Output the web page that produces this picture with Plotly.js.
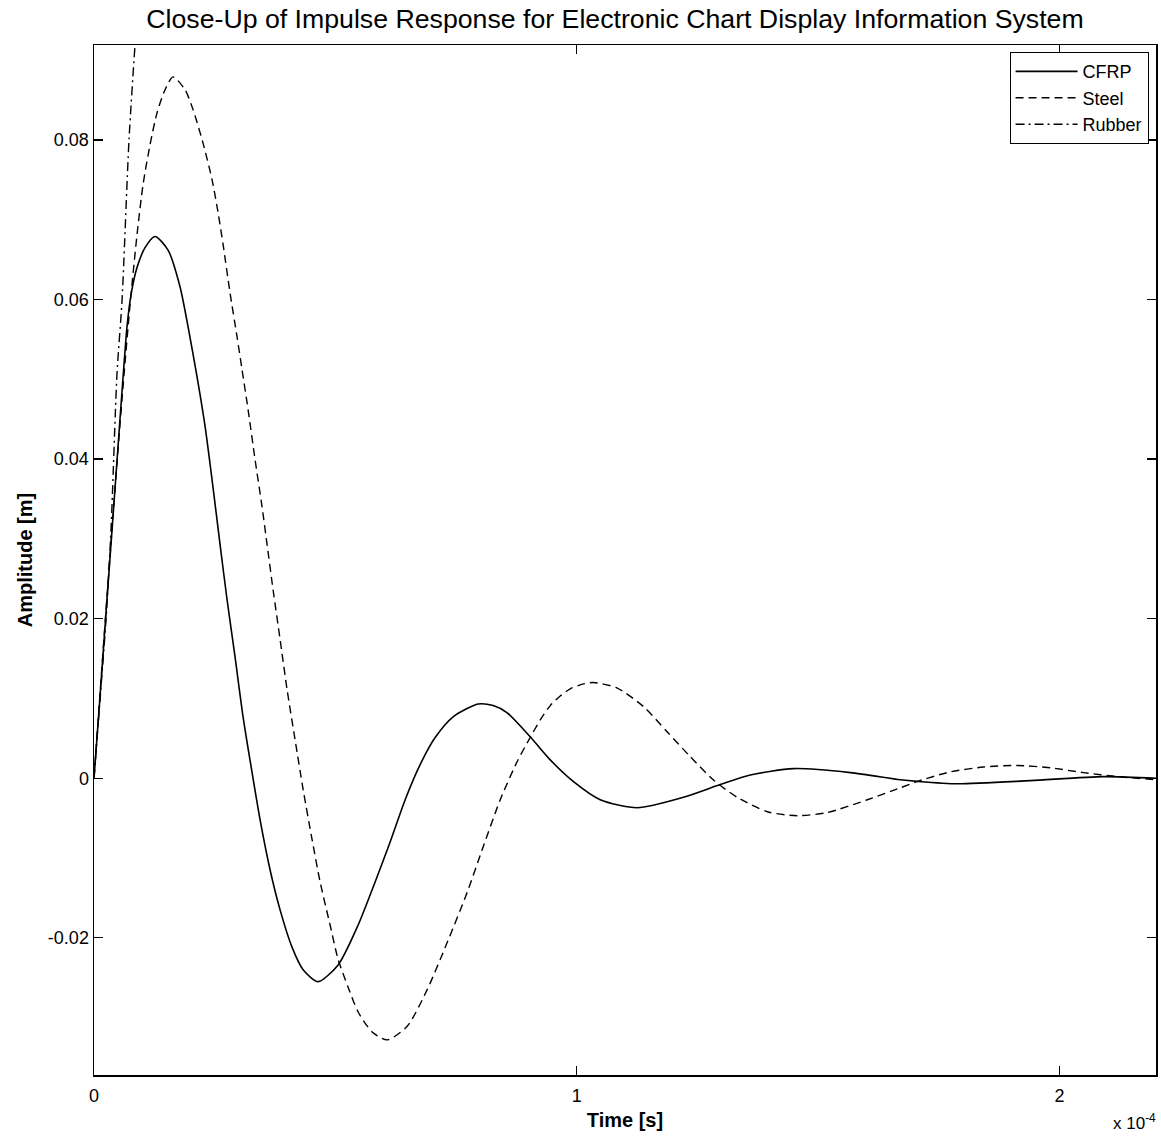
<!DOCTYPE html>
<html>
<head>
<meta charset="utf-8">
<script src="https://cdn.plot.ly/plotly-3.0.1.min.js"></script>
<style>html,body{margin:0;padding:0;background:#fff;}#chart{width:1161px;height:1137px;}</style>
</head>
<body>
<div id="chart"></div>
<script>
// Time [s]
const cfrpT = [0, 1.24e-6, 2.49e-6, 3.73e-6, 4.97e-6, 5.60e-6, 6.22e-6, 6.84e-6, 7.67e-6, 8.91e-6, 1.057e-5, 1.264e-5, 1.534e-5, 1.782e-5, 1.948e-5, 2.135e-5, 2.301e-5, 2.446e-5, 2.611e-5, 2.756e-5, 2.922e-5, 3.088e-5, 3.275e-5, 3.440e-5, 3.648e-5, 3.855e-5, 4.104e-5, 4.332e-5, 4.642e-5, 5.057e-5, 5.472e-5, 5.824e-5, 6.135e-5, 6.446e-5, 6.756e-5, 7.067e-5, 7.440e-5, 7.959e-5, 8.269e-5, 8.560e-5, 9.036e-5, 9.451e-5, 9.927e-5, 1.0487e-4, 1.1254e-4, 1.2207e-4, 1.2974e-4, 1.3596e-4, 1.4487e-4, 1.5668e-4, 1.6705e-4, 1.7057e-4, 1.7886e-4, 1.9399e-4, 2.0912e-4, 2.2010e-4];
const cfrpA = [0, 0.0102, 0.0207, 0.0311, 0.0415, 0.0468, 0.0519, 0.0566, 0.0606, 0.0640, 0.0665, 0.0679, 0.0662, 0.0616, 0.0566, 0.0503, 0.0441, 0.0374, 0.0293, 0.0224, 0.0152, 0.0077, 0.0007, -0.0052, -0.0115, -0.0165, -0.0212, -0.0240, -0.0255, -0.0234, -0.0184, -0.0130, -0.0080, -0.0027, 0.0017, 0.0051, 0.0077, 0.0093, 0.0091, 0.0082, 0.0052, 0.0023, -0.0004, -0.0027, -0.0037, -0.0024, -0.0008, 0.0004, 0.0012, 0.0007, -0.0002, -0.0004, -0.0007, -0.0003, 0.0002, 0.0];

const steelT = [0, 1.24e-6, 2.49e-6, 3.73e-6, 4.97e-6, 6.22e-6, 7.46e-6, 8.91e-6, 1.016e-5, 1.161e-5, 1.306e-5, 1.472e-5, 1.637e-5, 1.886e-5, 2.052e-5, 2.259e-5, 2.446e-5, 2.570e-5, 2.674e-5, 2.819e-5, 2.964e-5, 3.067e-5, 3.192e-5, 3.337e-5, 3.482e-5, 3.585e-5, 3.710e-5, 3.855e-5, 4.000e-5, 4.166e-5, 4.332e-5, 4.518e-5, 4.684e-5, 4.891e-5, 5.057e-5, 5.264e-5, 5.472e-5, 5.762e-5, 6.073e-5, 6.487e-5, 6.902e-5, 7.316e-5, 7.731e-5, 8.062e-5, 8.415e-5, 8.767e-5, 9.036e-5, 9.244e-5, 9.451e-5, 9.658e-5, 9.865e-5, 1.0073e-4, 1.0342e-4, 1.0839e-4, 1.1378e-4, 1.1876e-4, 1.2352e-4, 1.2829e-4, 1.3326e-4, 1.3948e-4, 1.4570e-4, 1.5192e-4, 1.6021e-4, 1.6705e-4, 1.7057e-4, 1.7741e-4, 1.8425e-4, 1.9130e-4, 1.9813e-4, 2.0497e-4, 2.1202e-4, 2.2010e-4];
const steelA = [0, 0.0105, 0.0211, 0.0311, 0.0412, 0.0506, 0.0593, 0.0681, 0.0744, 0.0794, 0.0834, 0.0863, 0.0879, 0.0863, 0.0838, 0.0796, 0.0750, 0.0709, 0.0669, 0.0608, 0.0553, 0.0512, 0.0462, 0.0399, 0.0340, 0.0293, 0.0236, 0.0174, 0.0111, 0.0048, -0.0014, -0.0077, -0.0130, -0.0184, -0.0227, -0.0262, -0.0293, -0.0318, -0.0328, -0.0311, -0.0265, -0.0206, -0.0143, -0.0086, -0.0027, 0.0021, 0.0051, 0.0073, 0.0091, 0.0103, 0.0112, 0.0117, 0.0120, 0.0113, 0.0090, 0.0058, 0.0027, -0.0002, -0.0024, -0.0042, -0.0047, -0.0043, -0.0027, -0.0012, -0.0004, 0.0008, 0.0014, 0.0016, 0.0013, 0.0007, 0.0002, -0.0002];

const rubberT = [0, 1.24e-6, 2.49e-6, 3.52e-6, 4.77e-6, 5.80e-6, 7.25e-6, 8.50e-6, 9.53e-6];
const rubberA = [0, 0.0098, 0.0199, 0.0311, 0.0508, 0.0598, 0.0800, 0.0919, 0.1001];

const xTickVals = [0, 1e-4, 2e-4];
const xTickText = ['0', '1', '2'];
const yTickVals = [-0.02, 0, 0.02, 0.04, 0.06, 0.08];
const yTickText = ['-0.02', '0', '0.02', '0.04', '0.06', '0.08'];

const FONT = 'Liberation Sans, Arial, sans-serif';

const traces = [
  {x: cfrpT, y: cfrpA, name: 'CFRP', mode: 'lines', line: {color: '#000', width: 1.6, dash: 'solid', shape: 'spline', smoothing: 0.7}},
  {x: steelT, y: steelA, name: 'Steel', mode: 'lines', line: {color: '#000', width: 1.4, dash: '8px,5px', shape: 'spline', smoothing: 0.7}},
  {x: rubberT, y: rubberA, name: 'Rubber', mode: 'lines', line: {color: '#000', width: 1.4, dash: '9px,4px,2px,4px', shape: 'spline', smoothing: 0.7}}
];

const axisCommon = {
  showgrid: false, zeroline: false, showline: true, linecolor: '#000', linewidth: 1.5,
  mirror: 'ticks', ticks: 'inside', ticklen: 9, tickwidth: 1.3, tickcolor: '#000',
  tickfont: {family: FONT, size: 18, color: '#000'}
};

const layout = {
  width: 1161, height: 1137,
  margin: {l: 94, r: 5, t: 45, b: 62},
  paper_bgcolor: '#fff', plot_bgcolor: '#fff',
  showlegend: true,
  title: {text: 'Close-Up of Impulse Response for Electronic Chart Display Information System',
          font: {family: FONT, size: 26.7, color: '#000'}, x: 0.5297, xanchor: 'center', y: 0.984, yanchor: 'middle'},
  xaxis: Object.assign({}, axisCommon, {
    range: [0, 2.2e-4], tickvals: xTickVals, ticktext: xTickText, ticklabelstandoff: 4,
    title: {text: '<b>Time [s]</b>', font: {family: FONT, size: 20, color: '#000'}, standoff: 8}
  }),
  yaxis: Object.assign({}, axisCommon, {
    range: [-0.0372, 0.0919], tickvals: yTickVals, ticktext: yTickText,
    title: {text: '<b>Amplitude [m]</b>', font: {family: FONT, size: 20, color: '#000'}, standoff: 10}
  }),
  legend: {x: 0.993, y: 0.993, xanchor: 'right', yanchor: 'top', bordercolor: '#000', borderwidth: 1,
           bgcolor: '#fff', font: {family: FONT, size: 18, color: '#000'}, itemwidth: 62,
           tracegroupgap: 0},
  annotations: [
    {xref: 'paper', yref: 'paper', x: 1, y: 0, xanchor: 'right', yanchor: 'top', yshift: -34, xshift: 2,
     showarrow: false, text: 'x 10<sup>-4</sup>', font: {family: FONT, size: 17, color: '#000'}}
  ]
};

Plotly.newPlot('chart', traces, layout, {displayModeBar: false, staticPlot: true});
</script>
</body>
</html>
